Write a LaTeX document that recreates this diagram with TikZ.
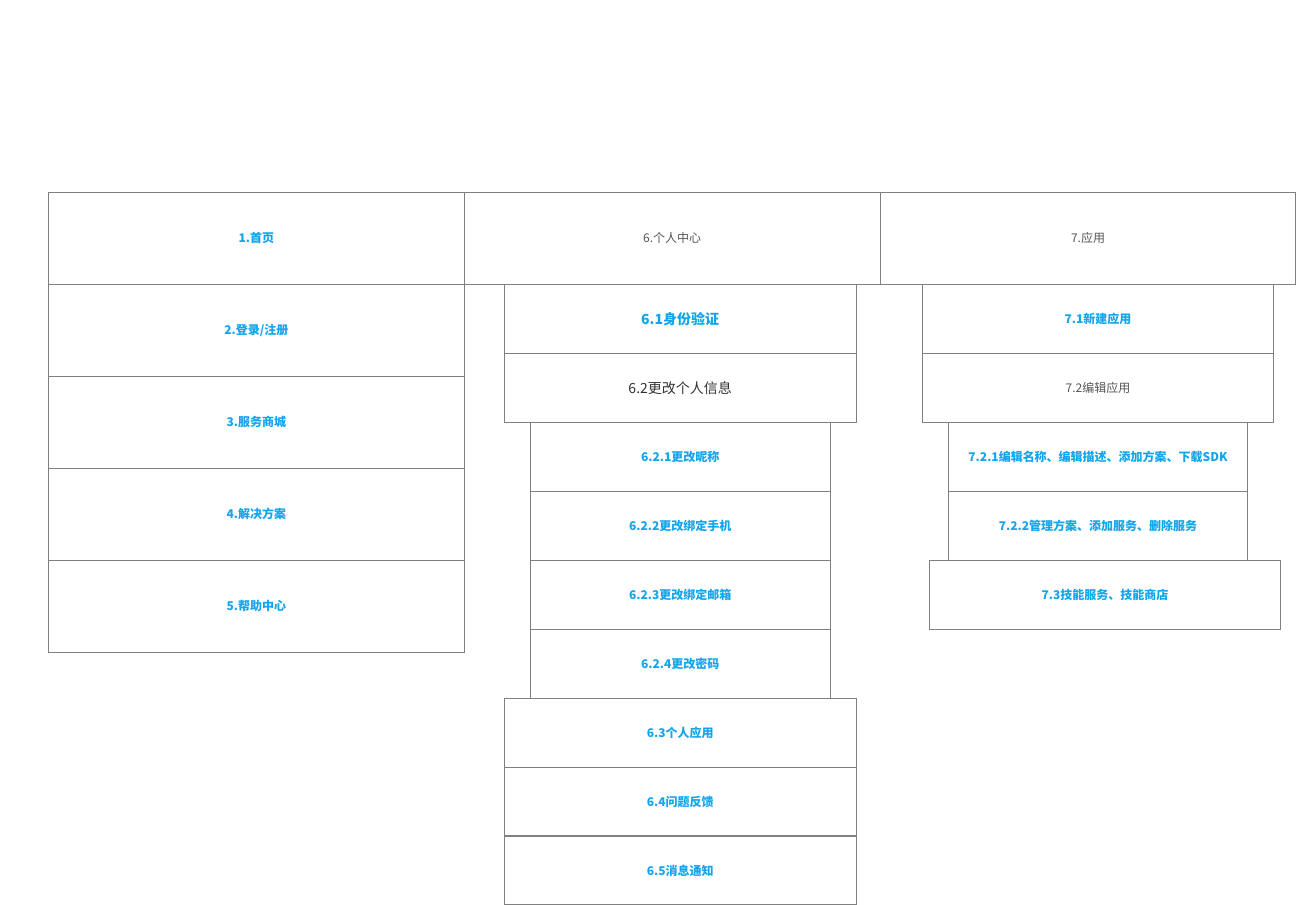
\documentclass[tikz,border=0pt]{standalone}
\usepackage{fontspec}
\setmainfont{Noto Sans CJK SC}
\definecolor{bordergray}{RGB}{128,128,128}
\definecolor{linkblue}{RGB}{19,165,236}
\definecolor{txtgray}{RGB}{85,85,85}
\definecolor{txtdark}{RGB}{51,51,51}
\tikzset{
  box/.style={draw=bordergray, line width=1pt, inner sep=0pt, anchor=north west, align=center},
  big/.style={minimum width=416pt, minimum height=92pt},
  mid/.style={minimum width=352pt, minimum height=69pt},
  small/.style={minimum width=300pt, minimum height=69pt},
  bluelbl/.style={text=linkblue, font=\fontsize{12}{14}\selectfont\bfseries},
  bluebig/.style={text=linkblue, font=\fontsize{14}{16}\selectfont\bfseries},
  graylbl/.style={text=txtgray, font=\fontsize{12}{14}\selectfont},
  darkbig/.style={text=txtdark, font=\fontsize{14}{16}\selectfont},
}
\begin{document}
\begin{tikzpicture}[x=1pt,y=-1pt]
\useasboundingbox (0,0) rectangle (1296.6,905.4);
% left column
\node[box,big,bluelbl] (n1) at (48,192) {1.首页};
\node[box,big,bluelbl] (n2) at (48,284) {2.登录/注册};
\node[box,big,bluelbl] (n3) at (48,376) {3.服务商城};
\node[box,big,bluelbl] (n4) at (48,468) {4.解决方案};
\node[box,big,bluelbl] (n5) at (48,560) {5.帮助中心};
% top row
\node[box,big,graylbl] (n6) at (464,192) {6.个人中心};
\node[box,big,graylbl] (n7) at (880,192) {7.应用};
% personal center column
\node[box,mid,bluebig] (n61) at (504,284) {6.1身份验证};
\node[box,mid,darkbig] (n62) at (504,353) {6.2更改个人信息};
\node[box,small,bluelbl] (n621) at (530,422) {6.2.1更改昵称};
\node[box,small,bluelbl] (n622) at (530,491) {6.2.2更改绑定手机};
\node[box,small,bluelbl] (n623) at (530,560) {6.2.3更改绑定邮箱};
\node[box,small,bluelbl] (n624) at (530,629) {6.2.4更改密码};
\node[box,mid,bluelbl] (n63) at (504,698) {6.3个人应用};
\node[box,mid,bluelbl] (n64) at (504,767) {6.4问题反馈};
\node[box,mid,bluelbl] (n65) at (504,835.8) {6.5消息通知};
% application column
\node[box,mid,bluelbl] (n71) at (922,284) {7.1新建应用};
\node[box,mid,graylbl] (n72) at (922,353) {7.2编辑应用};
\node[box,small,bluelbl] (n721) at (948,422) {7.2.1编辑名称、编辑描述、添加方案、下载SDK};
\node[box,small,bluelbl] (n722) at (948,491) {7.2.2管理方案、添加服务、删除服务};
\node[box,mid,bluelbl] (n73) at (929,560) {7.3技能服务、技能商店};
\end{tikzpicture}
\end{document}
